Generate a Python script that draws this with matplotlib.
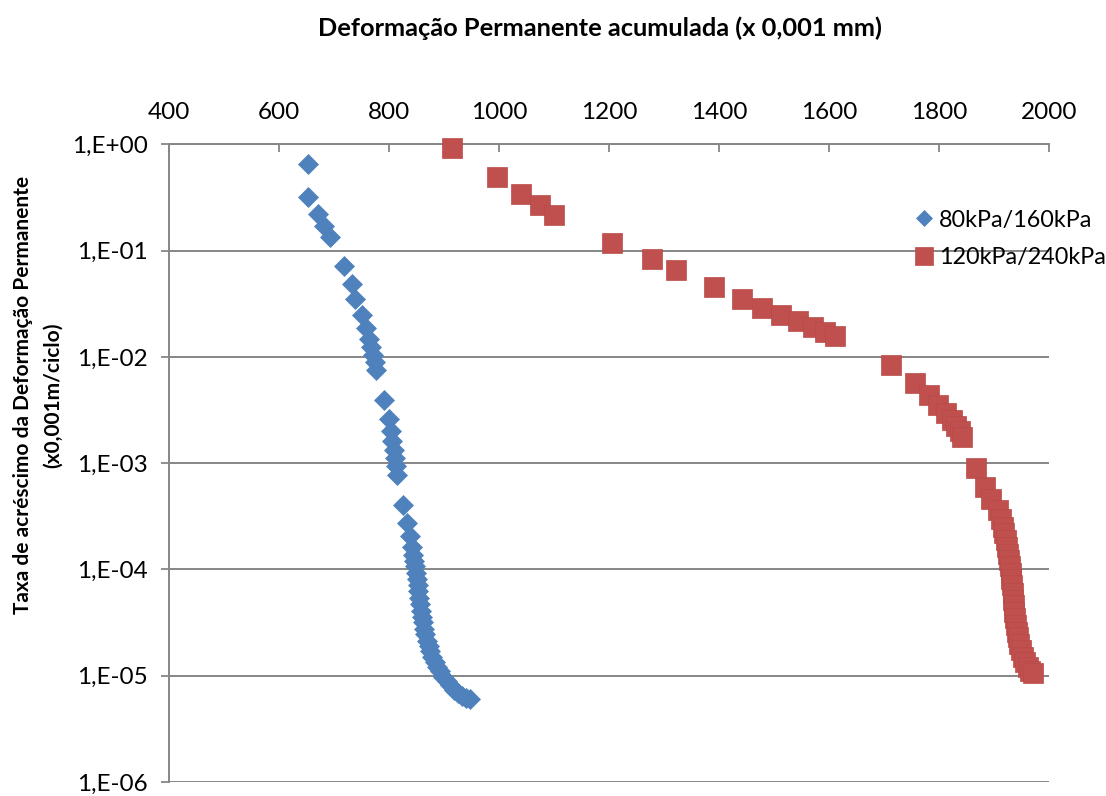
import matplotlib
matplotlib.use("Agg")
import matplotlib.pyplot as plt
from matplotlib.ticker import FixedLocator, FuncFormatter, NullLocator
import numpy as np

# ---------------- data ----------------
series_names = ["80kPa/160kPa", "120kPa/240kPa"]

blue_x = [652, 652, 671, 682, 692, 719, 732, 739, 751, 758, 763, 767, 771, 775, 777,
          791, 800, 803, 806, 809, 811, 813, 815, 826, 833, 838, 842, 844,
          846, 847, 849, 850, 852, 853, 855, 856, 858, 860, 862, 864, 866, 869,
          872, 875, 879, 883, 888, 893, 899, 905, 911, 918, 925, 932, 940, 947]
blue_y = [0.65, 0.32, 0.22, 0.17, 0.133, 0.071, 0.049, 0.035, 0.025, 0.0188, 0.0148,
          0.0123, 0.0105, 0.0090, 0.0076,
          0.0039, 0.0026, 0.0020, 0.0016, 0.00132, 0.00112, 0.00095, 0.00078,
          0.00040, 0.000272, 0.000207, 0.000164, 0.000138,
          1.20e-4, 1.07e-4, 9.3e-5, 8.1e-5, 7.1e-5, 6.2e-5, 5.4e-5, 4.7e-5, 4.1e-5,
          3.55e-5, 3.2e-5, 2.75e-5, 2.45e-5, 2.14e-5, 1.9e-5, 1.7e-5, 1.51e-5,
          1.35e-5, 1.2e-5, 1.1e-5, 9.8e-6, 8.9e-6, 8.1e-6, 7.4e-6, 6.9e-6, 6.5e-6,
          6.2e-6, 6.0e-6]

red_x = [914, 996, 1040, 1075, 1100, 1205, 1279, 1322, 1390, 1441, 1478, 1513, 1544,
         1570, 1593, 1611, 1712, 1756, 1782, 1799, 1813, 1823, 1831, 1838, 1842,
         1867, 1884, 1895, 1908, 1912, 1916, 1919,
         1921, 1923, 1925, 1927, 1929, 1930, 1931, 1933, 1934, 1935, 1936, 1937,
         1939, 1940, 1942, 1944, 1946, 1949, 1952, 1956, 1961, 1966, 1971]
red_y = [0.92, 0.49, 0.34, 0.267, 0.215, 0.118, 0.084, 0.065, 0.0455, 0.0353, 0.029,
         0.0248, 0.0218, 0.0192, 0.0173, 0.0158, 0.0084, 0.0057, 0.0044, 0.0035,
         0.00295, 0.00255, 0.00224, 0.00202, 0.00178,
         0.00091, 0.0006, 0.00046, 0.00036, 0.0003, 0.00025, 0.00022,
         1.9e-4, 1.64e-4, 1.41e-4, 1.23e-4, 1.07e-4, 9.3e-5, 8.1e-5, 7.1e-5, 6.0e-5,
         5.2e-5, 4.6e-5, 4.0e-5, 3.5e-5, 3.0e-5, 2.6e-5, 2.3e-5, 2.0e-5, 1.74e-5,
         1.51e-5, 1.35e-5, 1.2e-5, 1.11e-5, 1.05e-5]

x_ticks = [400, 600, 800, 1000, 1200, 1400, 1600, 1800, 2000]
y_ticks = [1e0, 1e-1, 1e-2, 1e-3, 1e-4, 1e-5, 1e-6]
y_tick_labels = ["1,E+00", "1,E-01", "1,E-02", "1,E-03", "1,E-04", "1,E-05", "1,E-06"]

title = "Deformação Permanente acumulada (x 0,001 mm)"
ylabel = "Taxa de acréscimo da Deformação Permanente\n(x0,001m/ciclo)"

# ---------------- style ----------------
plt.rcParams['font.family'] = ['Lato', 'DejaVu Sans']
W, H = 1106, 796
fig = plt.figure(figsize=(W / 100, H / 100), dpi=100)
ax = fig.add_axes([169 / W, 1 - 782 / H, (1049 - 169) / W, (782 - 144.3) / H])

grey = "#868686"
blue = "#4F81BD"
red = "#C0504D"

ax.plot(blue_x, blue_y, linestyle="none", marker="D", ms=9.8, color=blue,
        markeredgecolor=blue, markeredgewidth=0.5, label=series_names[0], zorder=3)
ax.plot(red_x, red_y, linestyle="none", marker="s", ms=14.2, color=red,
        markeredgecolor="#B94A47", markeredgewidth=0.5, label=series_names[1], zorder=3)

ax.set_yscale("log")
ax.set_xlim(400, 2000)
ax.set_ylim(1e-6, 1)

ax.xaxis.tick_top()
ax.xaxis.set_major_locator(FixedLocator(x_ticks))
ax.xaxis.set_minor_locator(NullLocator())
ax.yaxis.set_major_locator(FixedLocator(y_ticks))
ax.yaxis.set_minor_locator(NullLocator())
lab = dict(zip(y_ticks, y_tick_labels))
ax.yaxis.set_major_formatter(FuncFormatter(lambda v, p: lab.get(v, "")))
ax.xaxis.set_major_formatter(FuncFormatter(lambda v, p: f"{int(v)}"))

ax.tick_params(axis="x", direction="in", length=6, width=1.3, color=grey,
               labelsize=17.5, pad=15, top=True, bottom=False)
ax.tick_params(axis="y", direction="out", length=6, width=1.3, color=grey,
               labelsize=17.5, pad=9)

for s in ["right", "bottom"]:
    ax.spines[s].set_visible(False)
for s in ["top", "left"]:
    ax.spines[s].set_color(grey)
    ax.spines[s].set_linewidth(1.4)

ax.yaxis.grid(True, color=grey, linewidth=1.4)
ax.xaxis.grid(False)
ax.set_axisbelow(True)
for l in ax.lines:
    l.set_clip_on(False)

fig.text(600 / W, 1 - 28 / H, title, ha="center", va="center",
         fontsize=18.3, fontweight="bold")
fig.text(38 / W, 1 - 395 / H, ylabel, ha="center", va="center", rotation=90,
         fontsize=15, fontweight="bold", multialignment="center", linespacing=1.65)

leg = ax.legend(loc="upper left", bbox_to_anchor=(905 / W, 1 - 198 / H),
                bbox_transform=fig.transFigure, frameon=False, fontsize=16.8,
                markerscale=0.87, handlelength=0.6, handletextpad=0.35,
                labelspacing=0.72, borderpad=0)
leg.set_zorder(5)

fig.savefig("out.png", dpi=100, facecolor="white")
